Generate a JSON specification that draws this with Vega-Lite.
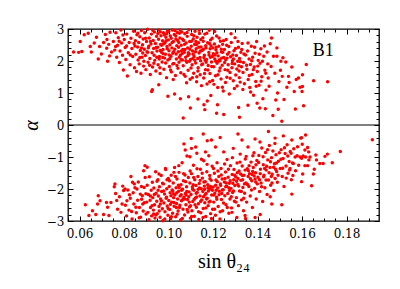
{
"$schema": "https://vega.github.io/schema/vega-lite/v6.json",
"width": 311, "height": 192,
"autosize": {"type": "none"},
"padding": {"left": 68, "top": 29, "right": 21, "bottom": 68},
"background": "white",
"config": {"view": {"stroke": "#000", "strokeWidth": 1.3}, "axis": {"tickColor": "#000", "labelColor": "#000", "titleColor": "#000", "tickWidth": 1, "grid": false, "domain": false}},
"datasets": {"pts": [
{"s":0.0573,"a":2.28},{"s":0.0596,"a":2.27},{"s":0.061,"a":2.3},{"s":0.0603,"a":2.61},{"s":0.0621,"a":2.82},{"s":0.0639,"a":2.87},{"s":0.0648,"a":2.45},{"s":0.0653,"a":2.28},{"s":0.0666,"a":2.56},{"s":0.0676,"a":2.74},{"s":0.0684,"a":2.06},{"s":0.0698,"a":2.22},{"s":0.069,"a":2.45},{"s":0.0708,"a":2.58},{"s":0.0723,"a":2.67},{"s":0.0722,"a":2.4},{"s":0.0744,"a":2.28},{"s":0.0735,"a":2.16},{"s":0.0726,"a":1.99},{"s":0.0737,"a":2.9},{"s":0.0716,"a":2.83},{"s":0.0731,"a":2.52},
{"s":0.0752,"a":2.61},{"s":0.0758,"a":2.34},{"s":0.0763,"a":2.88},{"s":0.0767,"a":2.12},{"s":0.0771,"a":2.49},{"s":0.0774,"a":2.73},{"s":0.0779,"a":1.95},{"s":0.0782,"a":2.31},{"s":0.0786,"a":2.97},{"s":0.0789,"a":2.56},{"s":0.0793,"a":2.18},{"s":0.0797,"a":1.72},{"s":0.0801,"a":2.67},{"s":0.0805,"a":2.42},{"s":0.0808,"a":2.05},{"s":0.0812,"a":2.84},{"s":0.0815,"a":1.53},{"s":0.0819,"a":2.26},{"s":0.0823,"a":2.58},{"s":0.0827,"a":1.88},{"s":0.0831,"a":2.71},{"s":0.0835,"a":2.39},{"s":0.0839,"a":2.14},{"s":0.0843,"a":2.93},{"s":0.0847,"a":1.79},{"s":0.0849,"a":2.47},
{"s":0.0851,"a":2.63},{"s":0.0853,"a":2.21},{"s":0.0856,"a":1.67},{"s":0.0858,"a":2.82},{"s":0.0861,"a":2.44},{"s":0.0863,"a":2.03},{"s":0.0866,"a":2.58},{"s":0.0868,"a":1.91},{"s":0.0871,"a":2.76},{"s":0.0873,"a":2.33},{"s":0.0876,"a":1.62},{"s":0.0878,"a":2.95},{"s":0.0881,"a":2.12},{"s":0.0883,"a":2.51},{"s":0.0886,"a":2.69},{"s":0.0888,"a":1.84},{"s":0.0891,"a":2.37},{"s":0.0893,"a":2.88},{"s":0.0896,"a":2.17},{"s":0.0898,"a":1.73},{"s":0.0901,"a":2.61},{"s":0.0903,"a":2.29},{"s":0.0906,"a":2.99},{"s":0.0908,"a":1.96},{"s":0.0911,"a":2.46},{"s":0.0913,"a":2.72},{"s":0.0916,"a":2.08},{"s":0.0918,"a":1.58},{"s":0.0921,"a":2.53},{"s":0.0923,"a":2.84},{"s":0.0926,"a":2.26},{"s":0.0928,"a":1.81},{"s":0.0931,"a":2.64},{"s":0.0933,"a":2.39},{"s":0.0936,"a":2.91},{"s":0.0938,"a":2.02},{"s":0.0941,"a":2.55},{"s":0.0943,"a":1.69},{"s":0.0946,"a":2.77},{"s":0.0948,"a":2.31},
{"s":0.0951,"a":2.43},{"s":0.0953,"a":1.88},{"s":0.0955,"a":2.68},{"s":0.0957,"a":2.97},{"s":0.0959,"a":2.14},{"s":0.0962,"a":1.61},{"s":0.0964,"a":2.52},{"s":0.0966,"a":2.79},{"s":0.0968,"a":2.27},{"s":0.0971,"a":1.97},{"s":0.0973,"a":2.63},{"s":0.0975,"a":2.36},{"s":0.0977,"a":2.88},{"s":0.0979,"a":1.74},{"s":0.0982,"a":2.09},{"s":0.0984,"a":2.57},{"s":0.0986,"a":2.21},{"s":0.0988,"a":2.74},{"s":0.0991,"a":1.48},{"s":0.0993,"a":2.45},{"s":0.0995,"a":2.93},{"s":0.0997,"a":2.03},{"s":0.0999,"a":2.66},{"s":0.1002,"a":2.32},{"s":0.1004,"a":1.83},{"s":0.1006,"a":2.51},{"s":0.1008,"a":2.78},{"s":0.1011,"a":2.15},{"s":0.1013,"a":1.66},{"s":0.1015,"a":2.41},{"s":0.1017,"a":2.97},{"s":0.1019,"a":2.24},{"s":0.1022,"a":2.61},{"s":0.1024,"a":1.92},{"s":0.1026,"a":2.83},{"s":0.1028,"a":2.37},{"s":0.1031,"a":1.55},{"s":0.1033,"a":2.69},{"s":0.1035,"a":2.06},{"s":0.1037,"a":2.48},{"s":0.1039,"a":2.89},{"s":0.1042,"a":1.77},{"s":0.1044,"a":2.29},{"s":0.1046,"a":2.58},{"s":0.1048,"a":2.12},{"s":0.1029,"a":2.95},{"s":0.0992,"a":2.85},{"s":0.1003,"a":2.19},{"s":0.0963,"a":2.33},{"s":0.1041,"a":2.64},{"s":0.1021,"a":1.42},{"s":0.0978,"a":2.54},{"s":0.1012,"a":2.71},{"s":0.0958,"a":2.06},{"s":0.1047,"a":1.96},
{"s":0.1051,"a":2.72},{"s":0.1053,"a":2.18},{"s":0.1055,"a":1.63},{"s":0.1057,"a":2.49},{"s":0.1059,"a":2.91},{"s":0.1062,"a":2.03},{"s":0.1064,"a":2.36},{"s":0.1066,"a":1.85},{"s":0.1068,"a":2.64},{"s":0.1071,"a":2.27},{"s":0.1073,"a":2.85},{"s":0.1075,"a":1.52},{"s":0.1077,"a":2.12},{"s":0.1079,"a":2.56},{"s":0.1082,"a":1.96},{"s":0.1084,"a":2.77},{"s":0.1086,"a":2.41},{"s":0.1088,"a":1.71},{"s":0.1091,"a":2.98},{"s":0.1093,"a":2.22},{"s":0.1095,"a":2.61},{"s":0.1097,"a":1.43},{"s":0.1099,"a":2.05},{"s":0.1102,"a":2.46},{"s":0.1104,"a":2.83},{"s":0.1106,"a":1.88},{"s":0.1108,"a":2.31},{"s":0.1111,"a":2.69},{"s":0.1113,"a":1.62},{"s":0.1115,"a":2.14},{"s":0.1117,"a":2.52},{"s":0.1119,"a":2.93},{"s":0.1122,"a":1.94},{"s":0.1124,"a":2.38},{"s":0.1126,"a":1.35},{"s":0.1128,"a":2.74},{"s":0.1131,"a":2.08},{"s":0.1133,"a":1.79},{"s":0.1135,"a":2.57},{"s":0.1137,"a":2.25},{"s":0.1139,"a":2.86},{"s":0.1142,"a":1.57},{"s":0.1144,"a":2.01},{"s":0.1146,"a":2.44},{"s":0.1148,"a":1.23},{"s":0.1058,"a":2.31},{"s":0.1072,"a":2.52},{"s":0.1087,"a":2.17},{"s":0.1109,"a":2.08},{"s":0.1121,"a":2.29},{"s":0.1136,"a":2.43},{"s":0.1145,"a":2.67},{"s":0.1081,"a":1.32},{"s":0.1101,"a":1.78},{"s":0.1127,"a":1.51},
{"s":0.1151,"a":2.33},{"s":0.1153,"a":1.91},{"s":0.1156,"a":2.62},{"s":0.1158,"a":1.47},{"s":0.1161,"a":2.18},{"s":0.1163,"a":2.84},{"s":0.1166,"a":1.73},{"s":0.1168,"a":2.41},{"s":0.1171,"a":2.05},{"s":0.1173,"a":1.28},{"s":0.1176,"a":2.57},{"s":0.1178,"a":1.86},{"s":0.1181,"a":2.27},{"s":0.1183,"a":2.96},{"s":0.1186,"a":1.61},{"s":0.1188,"a":2.12},{"s":0.1191,"a":2.48},{"s":0.1193,"a":1.97},{"s":0.1196,"a":2.71},{"s":0.1198,"a":1.39},{"s":0.1201,"a":2.23},{"s":0.1203,"a":1.82},{"s":0.1206,"a":2.53},{"s":0.1208,"a":2.06},{"s":0.1211,"a":1.54},{"s":0.1213,"a":2.35},{"s":0.1216,"a":2.78},{"s":0.1218,"a":1.93},{"s":0.1221,"a":1.17},{"s":0.1223,"a":2.16},{"s":0.1226,"a":2.46},{"s":0.1228,"a":1.69},{"s":0.1231,"a":2.01},{"s":0.1233,"a":2.62},{"s":0.1236,"a":1.44},{"s":0.1238,"a":2.28},{"s":0.1241,"a":1.87},{"s":0.1243,"a":2.52},{"s":0.1246,"a":1.06},{"s":0.1248,"a":2.11},{"s":0.1164,"a":2.02},{"s":0.1187,"a":2.38},{"s":0.1209,"a":2.19},{"s":0.1224,"a":1.99},{"s":0.1239,"a":2.09},
{"s":0.1251,"a":2.36},{"s":0.1254,"a":1.73},{"s":0.1257,"a":2.04},{"s":0.1259,"a":2.67},{"s":0.1262,"a":1.49},{"s":0.1265,"a":2.21},{"s":0.1268,"a":1.88},{"s":0.1271,"a":2.45},{"s":0.1273,"a":0.97},{"s":0.1276,"a":1.64},{"s":0.1279,"a":2.13},{"s":0.1282,"a":2.58},{"s":0.1285,"a":1.79},{"s":0.1287,"a":2.01},{"s":0.1291,"a":1.38},{"s":0.1294,"a":2.32},{"s":0.1297,"a":1.91},{"s":0.1299,"a":2.73},{"s":0.1302,"a":1.56},{"s":0.1305,"a":2.17},{"s":0.1308,"a":1.22},{"s":0.1311,"a":1.99},{"s":0.1314,"a":2.43},{"s":0.1317,"a":1.69},{"s":0.1319,"a":2.08},{"s":0.1322,"a":1.34},{"s":0.1325,"a":2.27},{"s":0.1328,"a":1.82},{"s":0.1331,"a":2.55},{"s":0.1334,"a":1.11},{"s":0.1337,"a":1.95},{"s":0.1263,"a":2.09},{"s":0.1289,"a":2.19},{"s":0.1316,"a":1.85},{"s":0.1339,"a":2.22},
{"s":0.1352,"a":1.74},{"s":0.1355,"a":2.31},{"s":0.1358,"a":1.42},{"s":0.1362,"a":2.06},{"s":0.1365,"a":1.17},{"s":0.1368,"a":1.89},{"s":0.1372,"a":2.46},{"s":0.1375,"a":1.58},{"s":0.1378,"a":2.12},{"s":0.1382,"a":0.93},{"s":0.1385,"a":1.81},{"s":0.1389,"a":2.24},{"s":0.1392,"a":1.36},{"s":0.1396,"a":2.61},{"s":0.1399,"a":1.67},{"s":0.1403,"a":2.02},{"s":0.1407,"a":1.24},{"s":0.1411,"a":1.93},{"s":0.1415,"a":2.38},{"s":0.1419,"a":1.51},{"s":0.1424,"a":0.82},{"s":0.1428,"a":2.15},{"s":0.1433,"a":1.71},{"s":0.1438,"a":1.09},{"s":0.1443,"a":2.28},{"s":0.1448,"a":1.47},
{"s":0.0884,"a":2.25},{"s":0.0897,"a":2.71},{"s":0.0909,"a":2.41},{"s":0.0915,"a":1.87},{"s":0.0929,"a":2.96},{"s":0.0935,"a":2.18},{"s":0.0944,"a":2.42},{"s":0.0952,"a":2.86},{"s":0.0961,"a":1.79},{"s":0.0969,"a":2.49},{"s":0.0974,"a":2.11},{"s":0.0981,"a":2.82},{"s":0.0987,"a":1.94},{"s":0.0994,"a":2.38},{"s":0.1001,"a":2.92},{"s":0.1009,"a":1.72},{"s":0.1016,"a":2.58},{"s":0.1023,"a":2.29},{"s":0.1032,"a":2.79},{"s":0.1038,"a":1.86},{"s":0.1045,"a":2.43},{"s":0.1052,"a":2.97},{"s":0.1056,"a":2.04},{"s":0.1063,"a":2.68},{"s":0.1069,"a":1.58},{"s":0.1074,"a":2.36},{"s":0.1083,"a":2.89},{"s":0.1089,"a":2.26},{"s":0.1094,"a":1.99},{"s":0.1103,"a":2.62},{"s":0.1107,"a":1.48},{"s":0.1114,"a":2.79},{"s":0.1118,"a":2.02},{"s":0.1125,"a":2.51},{"s":0.1132,"a":1.69},{"s":0.1138,"a":2.96},{"s":0.1143,"a":2.31},{"s":0.1149,"a":1.88},{"s":0.1154,"a":2.73},{"s":0.1159,"a":2.11},{"s":0.1162,"a":1.61},{"s":0.1167,"a":2.48},{"s":0.1172,"a":2.87},{"s":0.1177,"a":1.72},{"s":0.1182,"a":2.19},{"s":0.1185,"a":1.35},{"s":0.1189,"a":2.66},{"s":0.1194,"a":1.83},{"s":0.1199,"a":2.41},{"s":0.1204,"a":1.27},{"s":0.1207,"a":2.92},{"s":0.1212,"a":1.99},{"s":0.1217,"a":2.26},{"s":0.1222,"a":1.57},{"s":0.1227,"a":2.72},{"s":0.1232,"a":1.78},{"s":0.1237,"a":2.37},{"s":0.1242,"a":1.18},{"s":0.1247,"a":2.63},{"s":0.1252,"a":1.95},{"s":0.1256,"a":1.33},{"s":0.1261,"a":2.49},{"s":0.1266,"a":1.71},{"s":0.1272,"a":2.27},{"s":0.1277,"a":1.46},{"s":0.1281,"a":2.85},{"s":0.1286,"a":1.92},{"s":0.1292,"a":2.06},{"s":0.1296,"a":1.14},{"s":0.1301,"a":2.39},{"s":0.1307,"a":1.75},{"s":0.1312,"a":2.61},{"s":0.1318,"a":1.48},{"s":0.1323,"a":1.98},{"s":0.1329,"a":2.36},{"s":0.1335,"a":1.64},{"s":0.1341,"a":1.29},{"s":0.1346,"a":2.19},{"s":0.1351,"a":1.87},{"s":0.1357,"a":2.56},{"s":0.1363,"a":1.55},{"s":0.1369,"a":1.03},{"s":0.1374,"a":2.01},{"s":0.1381,"a":1.73},{"s":0.1387,"a":2.43},{"s":0.1394,"a":1.21},{"s":0.1401,"a":1.84},{"s":0.1408,"a":2.21},{"s":0.1416,"a":1.37},{"s":0.1422,"a":1.99},{"s":0.1431,"a":2.47},{"s":0.1437,"a":1.62},{"s":0.1446,"a":1.91},{"s":0.0878,"a":2.41},{"s":0.0862,"a":2.87},{"s":0.0845,"a":2.55},{"s":0.0828,"a":2.19},{"s":0.0811,"a":2.47},{"s":0.0795,"a":2.81},{"s":0.0778,"a":2.62},{"s":0.0762,"a":2.45},{"s":0.0889,"a":1.99},{"s":0.0871,"a":2.11},{"s":0.0906,"a":2.27},{"s":0.0919,"a":2.61},{"s":0.0934,"a":1.93},{"s":0.0947,"a":2.12},{"s":0.0963,"a":2.91},{"s":0.0976,"a":2.23},{"s":0.0989,"a":2.63},{"s":0.1005,"a":2.07},{"s":0.1019,"a":1.91},{"s":0.1034,"a":2.22},{"s":0.1049,"a":2.87},{"s":0.1061,"a":2.23},{"s":0.1078,"a":2.01},{"s":0.1096,"a":2.37},{"s":0.1111,"a":2.21},{"s":0.1123,"a":2.61},{"s":0.1141,"a":2.11},{"s":0.1157,"a":2.37},{"s":0.1169,"a":1.96},{"s":0.1184,"a":2.55},{"s":0.1197,"a":2.14},{"s":0.1214,"a":2.43},{"s":0.1229,"a":2.04},{"s":0.1244,"a":2.27},
{"s":0.0924,"a":1.05},{"s":0.0927,"a":1.1},{"s":0.0956,"a":1.26},{"s":0.0997,"a":0.9},{"s":0.1027,"a":0.97},{"s":0.1053,"a":0.82},{"s":0.1066,"a":0.22},{"s":0.1098,"a":0.53},{"s":0.109,"a":0.88},{"s":0.1132,"a":0.81},{"s":0.1159,"a":0.63},{"s":0.1174,"a":0.75},{"s":0.1163,"a":0.48},{"s":0.1216,"a":0.37},{"s":0.1248,"a":0.33},{"s":0.122,"a":0.63},{"s":0.119,"a":0.92},
{"s":0.1457,"a":2.54},{"s":0.1472,"a":2.15},{"s":0.1487,"a":2.15},{"s":0.1505,"a":1.99},{"s":0.1527,"a":1.97},{"s":0.1514,"a":2.1},{"s":0.1554,"a":1.81},{"s":0.1574,"a":1.42},{"s":0.1539,"a":1.52},{"s":0.1584,"a":1.47},{"s":0.1565,"a":1.05},{"s":0.157,"a":0.5},{"s":0.1509,"a":0.12},{"s":0.1519,"a":0.8},{"s":0.149,"a":1.0},{"s":0.1469,"a":0.3},{"s":0.1435,"a":0.51},{"s":0.141,"a":0.53},{"s":0.1398,"a":0.68},{"s":0.1357,"a":0.62},{"s":0.1319,"a":0.24},{"s":0.1315,"a":0.55},{"s":0.1482,"a":0.78},{"s":0.1493,"a":0.49},{"s":0.1591,"a":1.18},{"s":0.16,"a":1.05},{"s":0.1532,"a":1.18},
{"s":0.1619,"a":1.89},{"s":0.1602,"a":1.57},{"s":0.1652,"a":1.38},{"s":0.1715,"a":1.35},{"s":0.1602,"a":1.2},{"s":0.1607,"a":0.6},
{"s":0.1461,"a":1.83},{"s":0.1478,"a":1.62},{"s":0.1496,"a":1.36},{"s":0.1452,"a":1.21},{"s":0.1503,"a":1.71},{"s":0.1487,"a":2.41},{"s":0.1463,"a":2.72},{"s":0.1542,"a":1.33},{"s":0.1511,"a":1.52},
{"s":0.0626,"a":-2.49},{"s":0.0642,"a":-2.83},{"s":0.0658,"a":-2.68},{"s":0.0673,"a":-2.8},{"s":0.0681,"a":-2.47},{"s":0.0684,"a":-2.21},{"s":0.0692,"a":-2.37},{"s":0.0708,"a":-2.8},{"s":0.0721,"a":-2.42},{"s":0.0726,"a":-2.57},{"s":0.0732,"a":-2.83},{"s":0.0741,"a":-2.42},{"s":0.0759,"a":-1.84},{"s":0.0756,"a":-1.93},{"s":0.0762,"a":-2.14},{"s":0.0767,"a":-2.36},{"s":0.0771,"a":-2.63},{"s":0.0779,"a":-2.24},{"s":0.0786,"a":-2.73},{"s":0.0791,"a":-2.47},{"s":0.0798,"a":-2.05},{"s":0.0804,"a":-2.0},{"s":0.0794,"a":-1.91},{"s":0.0813,"a":-2.37},{"s":0.0824,"a":-2.18},{"s":0.0831,"a":-1.61},{"s":0.0838,"a":-1.79},{"s":0.0834,"a":-2.7},{"s":0.0846,"a":-1.84},{"s":0.0853,"a":-2.57},{"s":0.0858,"a":-2.0},{"s":0.0868,"a":-2.9},{"s":0.0873,"a":-2.16},{"s":0.0879,"a":-2.32},{"s":0.0888,"a":-1.43},{"s":0.0894,"a":-1.27},{"s":0.0899,"a":-2.78},{"s":0.0884,"a":-2.47},{"s":0.089,"a":-1.95},
{"s":0.0806,"a":-2.51},{"s":0.0811,"a":-2.84},{"s":0.0817,"a":-2.03},{"s":0.0822,"a":-2.66},{"s":0.0828,"a":-2.29},{"s":0.0836,"a":-2.94},{"s":0.0841,"a":-2.12},{"s":0.0844,"a":-2.47},{"s":0.0849,"a":-1.96},{"s":0.0855,"a":-2.74},{"s":0.0861,"a":-2.35},{"s":0.0864,"a":-1.78},{"s":0.0869,"a":-2.58},{"s":0.0874,"a":-2.88},{"s":0.0878,"a":-1.92},{"s":0.0882,"a":-2.21},{"s":0.0886,"a":-2.69},{"s":0.0891,"a":-2.43},{"s":0.0895,"a":-1.64},{"s":0.0898,"a":-2.15},
{"s":0.0902,"a":-2.41},{"s":0.0904,"a":-1.88},{"s":0.0907,"a":-2.73},{"s":0.0909,"a":-2.17},{"s":0.0912,"a":-2.96},{"s":0.0914,"a":-1.62},{"s":0.0917,"a":-2.35},{"s":0.0919,"a":-2.58},{"s":0.0922,"a":-2.04},{"s":0.0924,"a":-2.84},{"s":0.0927,"a":-1.79},{"s":0.0929,"a":-2.27},{"s":0.0932,"a":-2.66},{"s":0.0934,"a":-1.97},{"s":0.0937,"a":-2.49},{"s":0.0939,"a":-2.91},{"s":0.0942,"a":-1.46},{"s":0.0944,"a":-2.13},{"s":0.0947,"a":-2.38},{"s":0.0949,"a":-2.77},{"s":0.0952,"a":-1.71},{"s":0.0954,"a":-2.22},{"s":0.0957,"a":-2.55},{"s":0.0959,"a":-1.93},{"s":0.0962,"a":-2.88},{"s":0.0964,"a":-2.31},{"s":0.0967,"a":-1.58},{"s":0.0969,"a":-2.08},{"s":0.0972,"a":-2.62},{"s":0.0974,"a":-2.99},{"s":0.0977,"a":-1.84},{"s":0.0979,"a":-2.44},{"s":0.0982,"a":-2.16},{"s":0.0984,"a":-2.71},{"s":0.0987,"a":-1.39},{"s":0.0989,"a":-2.29},{"s":0.0992,"a":-1.99},{"s":0.0994,"a":-2.53},{"s":0.0997,"a":-2.82},{"s":0.0999,"a":-1.67},
{"s":0.1001,"a":-2.36},{"s":0.1003,"a":-1.92},{"s":0.1005,"a":-2.64},{"s":0.1007,"a":-2.12},{"s":0.1009,"a":-2.93},{"s":0.1012,"a":-1.57},{"s":0.1014,"a":-2.41},{"s":0.1016,"a":-2.03},{"s":0.1018,"a":-2.76},{"s":0.1021,"a":-1.81},{"s":0.1023,"a":-2.27},{"s":0.1025,"a":-2.54},{"s":0.1027,"a":-1.33},{"s":0.1029,"a":-2.18},{"s":0.1032,"a":-2.87},{"s":0.1034,"a":-1.96},{"s":0.1036,"a":-2.45},{"s":0.1038,"a":-1.69},{"s":0.1041,"a":-2.31},{"s":0.1043,"a":-2.69},{"s":0.1045,"a":-2.07},{"s":0.1047,"a":-1.48},{"s":0.1049,"a":-2.58},{"s":0.1052,"a":-2.22},{"s":0.1054,"a":-2.97},{"s":0.1056,"a":-1.87},{"s":0.1058,"a":-2.37},{"s":0.1061,"a":-1.18},{"s":0.1063,"a":-2.01},{"s":0.1065,"a":-2.63},{"s":0.1067,"a":-1.74},{"s":0.1069,"a":-2.26},{"s":0.1072,"a":-2.81},{"s":0.1074,"a":-1.56},{"s":0.1076,"a":-2.14},{"s":0.1078,"a":-2.49},{"s":0.1081,"a":-1.93},{"s":0.1083,"a":-0.97},{"s":0.1085,"a":-2.33},{"s":0.1087,"a":-2.72},{"s":0.1089,"a":-1.64},{"s":0.1092,"a":-2.09},{"s":0.1094,"a":-2.56},{"s":0.1096,"a":-1.81},{"s":0.1098,"a":-2.91},{"s":0.1011,"a":-2.21},{"s":0.1037,"a":-2.12},{"s":0.1059,"a":-2.04},{"s":0.1079,"a":-2.19},{"s":0.1093,"a":-2.41},
{"s":0.1101,"a":-2.17},{"s":0.1103,"a":-1.52},{"s":0.1105,"a":-2.68},{"s":0.1107,"a":-1.94},{"s":0.1109,"a":-2.39},{"s":0.1112,"a":-1.26},{"s":0.1114,"a":-2.04},{"s":0.1116,"a":-2.85},{"s":0.1118,"a":-1.71},{"s":0.1121,"a":-2.28},{"s":0.1123,"a":-1.89},{"s":0.1125,"a":-2.57},{"s":0.1127,"a":-0.88},{"s":0.1129,"a":-2.11},{"s":0.1132,"a":-1.61},{"s":0.1134,"a":-2.46},{"s":0.1136,"a":-2.95},{"s":0.1138,"a":-1.83},{"s":0.1141,"a":-2.22},{"s":0.1143,"a":-1.38},{"s":0.1145,"a":-2.74},{"s":0.1147,"a":-1.99},{"s":0.1149,"a":-2.34},{"s":0.1152,"a":-1.66},{"s":0.1154,"a":-2.08},{"s":0.1156,"a":-2.61},{"s":0.1158,"a":-1.12},{"s":0.1161,"a":-1.91},{"s":0.1163,"a":-2.43},{"s":0.1165,"a":-1.77},{"s":0.1167,"a":-2.86},{"s":0.1169,"a":-2.14},{"s":0.1172,"a":-1.46},{"s":0.1174,"a":-2.29},{"s":0.1176,"a":-1.87},{"s":0.1178,"a":-2.52},{"s":0.1181,"a":-0.96},{"s":0.1183,"a":-2.02},{"s":0.1185,"a":-1.58},{"s":0.1187,"a":-2.38},{"s":0.1189,"a":-2.77},{"s":0.1192,"a":-1.73},{"s":0.1194,"a":-2.19},{"s":0.1196,"a":-1.29},{"s":0.1198,"a":-2.63},{"s":0.1115,"a":-2.32},{"s":0.1133,"a":-2.01},{"s":0.1157,"a":-2.24},{"s":0.1179,"a":-2.06},{"s":0.1191,"a":-1.97},
{"s":0.1201,"a":-1.94},{"s":0.1203,"a":-2.41},{"s":0.1206,"a":-1.51},{"s":0.1208,"a":-2.13},{"s":0.1211,"a":-2.82},{"s":0.1213,"a":-1.72},{"s":0.1216,"a":-2.26},{"s":0.1218,"a":-1.18},{"s":0.1221,"a":-1.97},{"s":0.1223,"a":-2.55},{"s":0.1226,"a":-1.61},{"s":0.1228,"a":-2.07},{"s":0.1231,"a":-2.94},{"s":0.1233,"a":-1.84},{"s":0.1236,"a":-1.36},{"s":0.1238,"a":-2.33},{"s":0.1241,"a":-1.69},{"s":0.1243,"a":-2.68},{"s":0.1246,"a":-2.02},{"s":0.1248,"a":-0.84},{"s":0.1251,"a":-1.78},{"s":0.1253,"a":-2.21},{"s":0.1256,"a":-1.47},{"s":0.1258,"a":-2.49},{"s":0.1261,"a":-1.91},{"s":0.1263,"a":-1.08},{"s":0.1266,"a":-2.14},{"s":0.1268,"a":-1.63},{"s":0.1271,"a":-2.76},{"s":0.1273,"a":-1.82},{"s":0.1276,"a":-2.31},{"s":0.1278,"a":-1.27},{"s":0.1281,"a":-1.98},{"s":0.1283,"a":-2.59},{"s":0.1286,"a":-1.55},{"s":0.1288,"a":-2.11},{"s":0.1291,"a":-0.73},{"s":0.1293,"a":-1.71},{"s":0.1296,"a":-2.38},{"s":0.1298,"a":-1.89},{"s":0.1214,"a":-2.04},{"s":0.1234,"a":-1.89},{"s":0.1257,"a":-1.93},{"s":0.1274,"a":-2.05},{"s":0.1294,"a":-1.39},
{"s":0.1302,"a":-1.62},{"s":0.1305,"a":-2.27},{"s":0.1308,"a":-1.19},{"s":0.1311,"a":-1.86},{"s":0.1314,"a":-2.52},{"s":0.1317,"a":-1.44},{"s":0.1319,"a":-2.06},{"s":0.1322,"a":-0.91},{"s":0.1325,"a":-1.73},{"s":0.1328,"a":-2.34},{"s":0.1331,"a":-1.28},{"s":0.1334,"a":-1.95},{"s":0.1337,"a":-2.68},{"s":0.1339,"a":-1.57},{"s":0.1342,"a":-2.13},{"s":0.1345,"a":-1.06},{"s":0.1348,"a":-1.81},{"s":0.1351,"a":-2.41},{"s":0.1354,"a":-1.37},{"s":0.1357,"a":-0.69},{"s":0.1361,"a":-1.92},{"s":0.1364,"a":-1.52},{"s":0.1367,"a":-2.22},{"s":0.1371,"a":-1.16},{"s":0.1374,"a":-1.74},{"s":0.1377,"a":-2.58},{"s":0.1381,"a":-1.33},{"s":0.1384,"a":-0.87},{"s":0.1387,"a":-1.98},{"s":0.1391,"a":-1.49},{"s":0.1394,"a":-2.31},{"s":0.1397,"a":-1.11},{"s":0.1312,"a":-1.67},{"s":0.1333,"a":-1.71},{"s":0.1358,"a":-1.61},{"s":0.1378,"a":-1.45},{"s":0.1392,"a":-1.78},{"s":0.1346,"a":-2.92},
{"s":0.1402,"a":-1.63},{"s":0.1406,"a":-0.95},{"s":0.1409,"a":-2.08},{"s":0.1413,"a":-1.38},{"s":0.1416,"a":-1.81},{"s":0.1419,"a":-0.72},{"s":0.1423,"a":-2.39},{"s":0.1426,"a":-1.24},{"s":0.1429,"a":-1.57},{"s":0.1433,"a":-1.96},{"s":0.1436,"a":-0.86},{"s":0.1439,"a":-1.41},{"s":0.1443,"a":-2.17},{"s":0.1446,"a":-1.09},{"s":0.1449,"a":-1.72},{"s":0.1453,"a":-0.64},{"s":0.1456,"a":-1.33},{"s":0.1459,"a":-1.88},{"s":0.1463,"a":-1.02},{"s":0.1466,"a":-1.54},{"s":0.1469,"a":-0.81},{"s":0.1473,"a":-2.05},{"s":0.1476,"a":-1.21},{"s":0.1479,"a":-1.67},{"s":0.1483,"a":-0.93},{"s":0.1486,"a":-1.45},{"s":0.1489,"a":-1.79},{"s":0.1494,"a":-1.13},
{"s":0.1502,"a":-1.36},{"s":0.1506,"a":-0.77},{"s":0.1511,"a":-1.61},{"s":0.1515,"a":-1.05},{"s":0.1519,"a":-1.92},{"s":0.1524,"a":-0.89},{"s":0.1528,"a":-1.28},{"s":0.1533,"a":-0.62},{"s":0.1537,"a":-1.51},{"s":0.1542,"a":-1.14},{"s":0.1547,"a":-0.83},{"s":0.1552,"a":-1.71},{"s":0.1557,"a":-1.19},{"s":0.1563,"a":-0.74},{"s":0.1571,"a":-1.43},{"s":0.1578,"a":-0.96},{"s":0.1585,"a":-1.26},
{"s":0.0926,"a":-2.52},{"s":0.0936,"a":-2.17},{"s":0.0943,"a":-2.81},{"s":0.0953,"a":-2.04},{"s":0.0958,"a":-2.69},{"s":0.0968,"a":-2.37},{"s":0.0973,"a":-1.82},{"s":0.0983,"a":-2.94},{"s":0.0991,"a":-2.26},{"s":0.0998,"a":-2.61},{"s":0.1004,"a":-1.74},{"s":0.1013,"a":-2.87},{"s":0.1019,"a":-2.06},{"s":0.1024,"a":-2.42},{"s":0.1031,"a":-1.61},{"s":0.1039,"a":-2.79},{"s":0.1044,"a":-1.88},{"s":0.1051,"a":-2.51},{"s":0.1057,"a":-2.18},{"s":0.1062,"a":-2.92},{"s":0.1068,"a":-1.52},{"s":0.1073,"a":-2.31},{"s":0.1077,"a":-1.77},{"s":0.1084,"a":-2.64},{"s":0.1091,"a":-2.24},{"s":0.1097,"a":-1.44},{"s":0.1104,"a":-2.86},{"s":0.1108,"a":-2.01},{"s":0.1113,"a":-1.64},{"s":0.1119,"a":-2.49},{"s":0.1124,"a":-2.13},{"s":0.1128,"a":-1.37},{"s":0.1135,"a":-2.71},{"s":0.1139,"a":-1.97},{"s":0.1144,"a":-2.39},{"s":0.1151,"a":-1.51},{"s":0.1155,"a":-2.89},{"s":0.1159,"a":-1.78},{"s":0.1164,"a":-2.18},{"s":0.1168,"a":-2.59},{"s":0.1173,"a":-1.23},{"s":0.1177,"a":-1.96},{"s":0.1182,"a":-2.41},{"s":0.1186,"a":-1.68},{"s":0.1193,"a":-2.92},{"s":0.1197,"a":-2.04},{"s":0.1202,"a":-1.36},{"s":0.1207,"a":-2.63},{"s":0.1212,"a":-1.88},{"s":0.1217,"a":-2.32},{"s":0.1222,"a":-1.44},{"s":0.1227,"a":-2.18},{"s":0.1232,"a":-2.71},{"s":0.1237,"a":-1.56},{"s":0.1242,"a":-2.03},{"s":0.1247,"a":-2.44},{"s":0.1252,"a":-1.22},{"s":0.1259,"a":-1.81},{"s":0.1264,"a":-2.58},{"s":0.1269,"a":-1.38},{"s":0.1277,"a":-1.74},{"s":0.1282,"a":-2.24},{"s":0.1287,"a":-1.02},{"s":0.1292,"a":-2.06},{"s":0.1297,"a":-1.57},{"s":0.1303,"a":-2.41},{"s":0.1309,"a":-1.49},{"s":0.1315,"a":-1.91},{"s":0.1321,"a":-1.16},{"s":0.1327,"a":-2.08},{"s":0.1332,"a":-1.58},{"s":0.1338,"a":-2.29},{"s":0.1344,"a":-1.41},{"s":0.1349,"a":-0.98},{"s":0.1355,"a":-1.86},{"s":0.1362,"a":-1.27},{"s":0.1368,"a":-1.68},{"s":0.1373,"a":-2.03},{"s":0.1379,"a":-0.96},{"s":0.1385,"a":-1.59},{"s":0.1393,"a":-1.24},{"s":0.1399,"a":-1.84},{"s":0.1405,"a":-1.17},{"s":0.1412,"a":-1.52},{"s":0.1418,"a":-1.93},{"s":0.1425,"a":-0.99},{"s":0.1432,"a":-1.36},{"s":0.1438,"a":-1.72},{"s":0.1445,"a":-0.77},{"s":0.1452,"a":-1.49},{"s":0.1458,"a":-1.15},{"s":0.1465,"a":-1.81},{"s":0.1472,"a":-1.32},{"s":0.1478,"a":-0.58},{"s":0.1485,"a":-1.19},{"s":0.1492,"a":-1.57},{"s":0.1498,"a":-0.87},{"s":0.1505,"a":-1.07},{"s":0.1513,"a":-1.35},{"s":0.1521,"a":-0.71},{"s":0.1529,"a":-1.66},{"s":0.1536,"a":-0.97},{"s":0.1544,"a":-1.41},{"s":0.1551,"a":-0.88},{"s":0.1559,"a":-1.58},{"s":0.0918,"a":-2.22},{"s":0.0933,"a":-2.78},{"s":0.0948,"a":-1.76},{"s":0.0963,"a":-2.47},{"s":0.0978,"a":-2.06},{"s":0.0993,"a":-1.71},{"s":0.1008,"a":-2.48},{"s":0.1022,"a":-2.15},{"s":0.1035,"a":-2.58},{"s":0.1048,"a":-1.95},{"s":0.1064,"a":-2.33},{"s":0.1082,"a":-2.08},{"s":0.1099,"a":-2.52},{"s":0.1111,"a":-1.87},{"s":0.1126,"a":-2.25},{"s":0.1142,"a":-1.73},{"s":0.1162,"a":-2.01},{"s":0.1171,"a":-2.31},{"s":0.1188,"a":-1.92},{"s":0.1204,"a":-2.19},{"s":0.1219,"a":-1.77},{"s":0.1239,"a":-2.14},{"s":0.1254,"a":-1.67},{"s":0.1271,"a":-1.96},{"s":0.1289,"a":-1.82},{"s":0.1306,"a":-1.76},{"s":0.1324,"a":-1.53},{"s":0.1341,"a":-1.84},{"s":0.1359,"a":-1.43},{"s":0.1376,"a":-1.55},{"s":0.1389,"a":-1.69},{"s":0.1409,"a":-1.71},{"s":0.1427,"a":-1.62},{"s":0.1441,"a":-1.29},{"s":0.1462,"a":-1.61},{"s":0.1481,"a":-1.38},
{"s":0.1102,"a":-0.42},{"s":0.1156,"a":-0.28},{"s":0.1069,"a":-0.59},{"s":0.1075,"a":-0.78},{"s":0.1103,"a":-0.73},{"s":0.1122,"a":-0.69},{"s":0.1174,"a":-0.49},{"s":0.1193,"a":-0.47},{"s":0.1211,"a":-0.69},{"s":0.1232,"a":-0.39},{"s":0.1166,"a":-0.84},{"s":0.1096,"a":-0.99},{"s":0.1148,"a":-1.07},{"s":0.1046,"a":-1.27},{"s":0.0986,"a":-1.36},{"s":0.0904,"a":-1.32},{"s":0.0957,"a":-1.53},{"s":0.1024,"a":-1.48},
{"s":0.1449,"a":-0.2},{"s":0.1312,"a":-0.28},{"s":0.133,"a":-0.47},{"s":0.1389,"a":-0.44},{"s":0.1411,"a":-0.53},{"s":0.1479,"a":-0.41},{"s":0.1516,"a":-0.34},{"s":0.1554,"a":-0.47},{"s":0.1594,"a":-0.41},{"s":0.158,"a":-0.68},{"s":0.1591,"a":-1.0},{"s":0.1569,"a":-1.0},{"s":0.1561,"a":-1.2},{"s":0.1546,"a":-1.36},{"s":0.1554,"a":-2.16},{"s":0.1509,"a":-2.49},{"s":0.1464,"a":-2.47},{"s":0.1457,"a":-2.24},{"s":0.1412,"a":-2.8},{"s":0.1389,"a":-2.89},{"s":0.1344,"a":-2.83},{"s":0.1307,"a":-2.89},{"s":0.1285,"a":-2.73},
{"s":0.1616,"a":-0.31},{"s":0.1598,"a":-0.4},{"s":0.1601,"a":-0.6},{"s":0.1625,"a":-0.7},{"s":0.1613,"a":-0.78},{"s":0.163,"a":-0.84},{"s":0.1605,"a":-0.97},{"s":0.1616,"a":-1.0},{"s":0.1636,"a":-1.0},{"s":0.1631,"a":-1.09},{"s":0.1625,"a":-1.27},{"s":0.1613,"a":-1.27},{"s":0.1598,"a":-1.04},{"s":0.1662,"a":-0.94},{"s":0.1665,"a":-1.09},{"s":0.1703,"a":-0.98},{"s":0.1714,"a":-0.91},{"s":0.168,"a":-1.2},{"s":0.1695,"a":-1.2},{"s":0.1655,"a":-1.38},{"s":0.1651,"a":-1.53},{"s":0.1603,"a":-1.53},{"s":0.1598,"a":-1.77},{"s":0.1643,"a":-1.9},{"s":0.1772,"a":-0.83},{"s":0.1736,"a":-1.18},{"s":0.1916,"a":-0.46}
]},
"data": {"name": "pts"},
"resolve": {"axis": {"x": "independent", "y": "independent"}},
"layer": [
{"mark": {"type": "circle", "color": "#ff0000", "size": 12, "opacity": 1},
 "encoding": {
  "x": {"field": "s", "type": "quantitative", "scale": {"domain": [0.0548, 0.1946], "nice": false, "zero": false},
   "axis": {"orient": "bottom", "values": [0.06,0.08,0.1,0.12,0.14,0.16,0.18], "format": ".2f", "ticks": false, "labelFont": "DejaVu Serif", "labelFontSize": 12, "labelPadding": 7, "title": "sin θ₂₄", "titleFont": "Liberation Serif", "titleFontSize": 20, "titleFontWeight": "normal", "titlePadding": 12}},
  "y": {"field": "a", "type": "quantitative", "scale": {"domain": [-3, 3], "nice": false, "zero": false},
   "axis": {"orient": "left", "values": [-3,-2,-1,0,1,2,3], "format": "d", "ticks": false, "labelFont": "DejaVu Serif", "labelFontSize": 12, "labelPadding": 4, "title": "α", "titleFont": "Liberation Serif", "titleFontStyle": "italic", "titleFontSize": 20, "titleFontWeight": "normal", "titlePadding": 5}}
 }},
{"mark": {"type": "point", "opacity": 0},
 "encoding": {
  "x": {"field": "s", "type": "quantitative", "axis": {"orient": "top", "offset": -192, "values": [0.06,0.08,0.1,0.12,0.14,0.16,0.18], "tickSize": 5, "labels": false, "title": null}},
  "y": {"field": "a", "type": "quantitative", "axis": {"orient": "right", "offset": -311, "values": [-3,-2,-1,0,1,2,3], "tickSize": 5, "labels": false, "title": null}}
 }},
{"mark": {"type": "point", "opacity": 0},
 "encoding": {
  "x": {"field": "s", "type": "quantitative", "axis": {"orient": "top", "offset": -192, "values": [0.055,0.065,0.07,0.075,0.085,0.09,0.095,0.105,0.11,0.115,0.125,0.13,0.135,0.145,0.15,0.155,0.165,0.17,0.175,0.185,0.19], "tickSize": 3, "labels": false, "title": null}},
  "y": {"field": "a", "type": "quantitative", "axis": {"orient": "right", "offset": -311, "values": [-2.8,-2.6,-2.4,-2.2,-1.8,-1.6,-1.4,-1.2,-0.8,-0.6,-0.4,-0.2,0.2,0.4,0.6,0.8,1.2,1.4,1.6,1.8,2.2,2.4,2.6,2.8], "tickSize": 3, "labels": false, "title": null}}
 }},
{"mark": {"type": "point", "opacity": 0},
 "encoding": {
  "x": {"field": "s", "type": "quantitative", "axis": {"orient": "bottom", "offset": -192, "values": [0.06,0.08,0.1,0.12,0.14,0.16,0.18], "tickSize": 5, "labels": false, "title": null}},
  "y": {"field": "a", "type": "quantitative", "axis": {"orient": "left", "offset": -311, "values": [-3,-2,-1,0,1,2,3], "tickSize": 5, "labels": false, "title": null}}
 }},
{"mark": {"type": "point", "opacity": 0},
 "encoding": {
  "x": {"field": "s", "type": "quantitative", "axis": {"orient": "bottom", "offset": -192, "values": [0.055,0.065,0.07,0.075,0.085,0.09,0.095,0.105,0.11,0.115,0.125,0.13,0.135,0.145,0.15,0.155,0.165,0.17,0.175,0.185,0.19], "tickSize": 3, "labels": false, "title": null}},
  "y": {"field": "a", "type": "quantitative", "axis": {"orient": "left", "offset": -311, "values": [-2.8,-2.6,-2.4,-2.2,-1.8,-1.6,-1.4,-1.2,-0.8,-0.6,-0.4,-0.2,0.2,0.4,0.6,0.8,1.2,1.4,1.6,1.8,2.2,2.4,2.6,2.8], "tickSize": 3, "labels": false, "title": null}}
 }},
{"data": {"values": [{"a": 0}]},
 "mark": {"type": "rule", "color": "#000", "strokeWidth": 1.2},
 "encoding": {"y": {"field": "a", "type": "quantitative", "axis": null}}},
{"data": {"values": [{"s": 0.1695, "a": 2.32, "t": "B1"}]},
 "mark": {"type": "text", "font": "Liberation Serif", "fontSize": 18, "align": "center", "baseline": "middle", "color": "#000"},
 "encoding": {"x": {"field": "s", "type": "quantitative", "axis": null}, "y": {"field": "a", "type": "quantitative", "axis": null}, "text": {"field": "t"}}}
]
}
